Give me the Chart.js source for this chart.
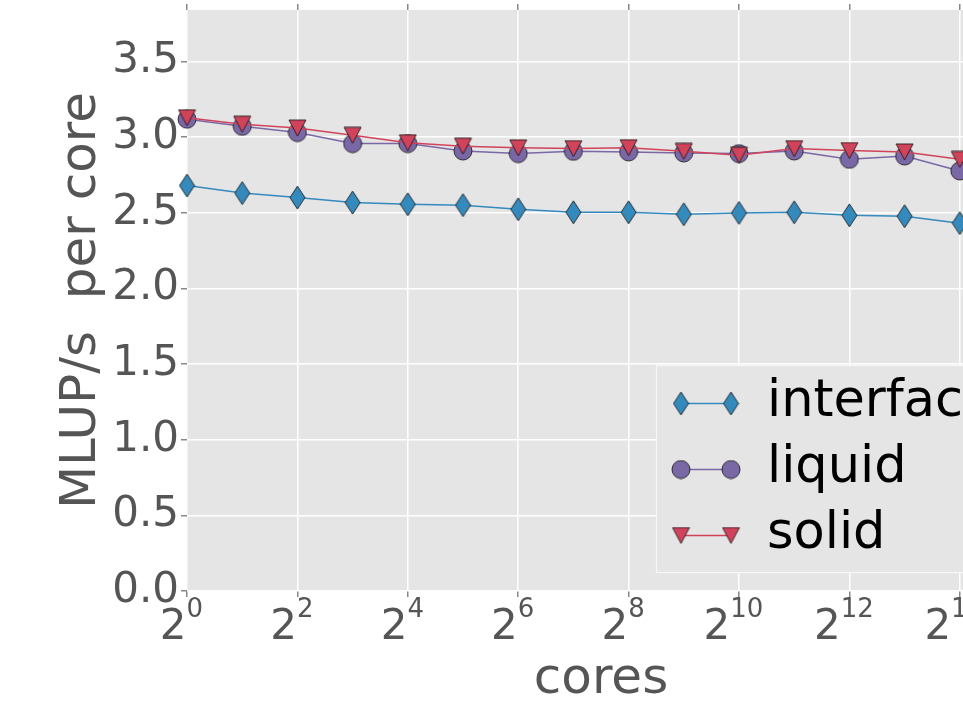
<!DOCTYPE html>
<html><head><meta charset="utf-8">
<script src="https://cdn.jsdelivr.net/npm/chart.js@4"></script>
<style>html,body{margin:0;padding:0;overflow:hidden;background:#fff}</style>
</head><body>
<canvas id="c" width="1015" height="713" style="display:block;width:1015px;height:713px"></canvas>
<script>
// ---- data ----
const cores = [1, 2, 4, 8, 16, 32, 64, 128, 256, 512, 1024, 2048, 4096, 8192, 16384];
const interfaceVals = [2.68, 2.63, 2.60, 2.567, 2.556, 2.55, 2.523, 2.503, 2.503, 2.49, 2.499, 2.503, 2.483, 2.477, 2.431];
const liquidVals = [3.118, 3.071, 3.03, 2.957, 2.957, 2.908, 2.891, 2.906, 2.902, 2.895, 2.891, 2.908, 2.853, 2.875, 2.776];
const solidVals = [3.128, 3.085, 3.06, 3.012, 2.963, 2.94, 2.929, 2.924, 2.93, 2.906, 2.88, 2.924, 2.911, 2.902, 2.853];
const seriesNames = ['interface', 'liquid', 'solid'];
const xTickPowers = [0, 2, 4, 6, 8, 10, 12, 14];
const xTitle = 'cores';
const yTitle = 'MLUP/s  per core';

const FONT = '"DejaVu Sans", "Liberation Sans", sans-serif';
const EDGE = 'rgba(25,25,25,0.85)';

function makeMarker(kind, fill) {
  const c = document.createElement('canvas');
  let w, h;
  if (kind === 'diamond') { w = 17; h = 25; }
  else if (kind === 'circle') { w = 20; h = 20; }
  else { w = 19; h = 18; }
  c.width = w; c.height = h;
  const g = c.getContext('2d');
  g.fillStyle = fill; g.strokeStyle = EDGE; g.lineWidth = 1;
  g.beginPath();
  if (kind === 'diamond') {
    g.moveTo(w/2, 1); g.lineTo(w-1, h/2); g.lineTo(w/2, h-1); g.lineTo(1, h/2); g.closePath();
  } else if (kind === 'circle') {
    g.arc(w/2, h/2, 9, 0, Math.PI*2);
  } else {
    g.moveTo(1, 1); g.lineTo(w-1, 1); g.lineTo(w/2, h-1); g.closePath();
  }
  g.fill(); g.stroke();
  return c;
}

const colors = ['#348ABD', '#7A68A6', '#D1435B'];
const markers = [makeMarker('diamond', colors[0]), makeMarker('circle', colors[1]), makeMarker('tri', colors[2])];
const seriesVals = [interfaceVals, liquidVals, solidVals];

const bgPlugin = {
  id: 'plotBg',
  beforeDraw(chart) {
    const {ctx, chartArea: a} = chart;
    ctx.save(); ctx.fillStyle = '#E5E5E5';
    ctx.fillRect(a.left, a.top, a.right - a.left, a.bottom - a.top);
    ctx.restore();
  }
};

const xLabelPlugin = {
  id: 'xPowLabels',
  afterDraw(chart) {
    const {ctx} = chart; const s = chart.scales.x;
    ctx.save(); ctx.fillStyle = '#555'; ctx.textBaseline = 'alphabetic'; ctx.textAlign = 'left';
    xTickPowers.forEach(p => {
      const x = s.getPixelForValue(Math.pow(2, p));
      ctx.font = '42px ' + FONT; const wb = ctx.measureText('2').width;
      ctx.font = '26px ' + FONT; const we = ctx.measureText(String(p)).width;
      const x0 = x - (wb + we) / 2 - 5.5;
      ctx.font = '42px ' + FONT; ctx.fillText('2', x0, 639);
      ctx.font = '26px ' + FONT; ctx.fillText(String(p), x0 + wb, 617);
    });
    ctx.restore();
  }
};

const legendPlugin = {
  id: 'mplLegend',
  afterDatasetsDraw(chart) {
    const {ctx, chartArea: a} = chart;
    const bx = a.left + 469, by = a.top + 355, bw = 345, bh = 207;
    ctx.save();
    ctx.fillStyle = '#E5E5E5'; ctx.fillRect(bx, by, bw, bh);
    ctx.strokeStyle = '#F7F7F7'; ctx.lineWidth = 1.2; ctx.strokeRect(bx + 0.5, by + 0.5, bw, bh);
    chart.data.datasets.forEach((ds, i) => {
      const y = by + 38.5 + i * 66;
      ctx.strokeStyle = ds.borderColor; ctx.lineWidth = ds.borderWidth;
      ctx.beginPath(); ctx.moveTo(bx + 25, y); ctx.lineTo(bx + 75, y); ctx.stroke();
      const m = ds.pointStyle;
      [bx + 25, bx + 75].forEach(x => ctx.drawImage(m, x - m.width / 2, y - m.height / 2));
      ctx.fillStyle = '#000'; ctx.font = '51px ' + FONT; ctx.textBaseline = 'alphabetic'; ctx.textAlign = 'left';
      ctx.fillText(ds.label, bx + 111, y + 12);
    });
    ctx.restore();
  }
};

const xMin = 1, xMax = Math.pow(2, 15);
const setXTicks = s => { s.ticks = xTickPowers.map(p => ({ value: Math.pow(2, p) })); };

new Chart(document.getElementById('c'), {
  type: 'line',
  data: {
    datasets: seriesNames.map((name, i) => ({
      label: name,
      data: cores.map((c, j) => ({ x: c, y: seriesVals[i][j] })),
      borderColor: colors[i],
      backgroundColor: colors[i],
      borderWidth: 1.5,
      pointStyle: markers[i],
      pointRadius: 10,
      pointHoverRadius: 10,
      clip: false,
      tension: 0,
      fill: false,
      order: 3 - i
    }))
  },
  options: {
    responsive: false,
    animation: false,
    devicePixelRatio: 1,
    events: [],
    layout: { padding: 0, autoPadding: false },
    plugins: { legend: { display: false }, tooltip: { enabled: false } },
    scales: {
      x: {
        type: 'logarithmic', position: 'bottom', min: xMin, max: xMax,
        afterBuildTicks: setXTicks,
        afterFit: s => { s.height = 122; s.paddingLeft = 0; s.paddingRight = 0; },
        border: { display: false },
        grid: { color: '#FFFFFF', lineWidth: 1.5, tickColor: '#888', tickLength: 6, drawTicks: true },
        ticks: { display: false },
        title: { display: true, text: xTitle, color: '#555', font: { family: FONT, size: 50 }, padding: { top: 0, bottom: 3 } }
      },
      x2: {
        type: 'logarithmic', position: 'top', min: xMin, max: xMax,
        afterBuildTicks: setXTicks,
        afterFit: s => { s.height = 10; s.paddingLeft = 0; s.paddingRight = 0; },
        border: { display: false },
        grid: { drawOnChartArea: false, tickColor: '#888', lineWidth: 1.5, tickLength: 6, drawTicks: true },
        ticks: { display: false }
      },
      y: {
        type: 'linear', position: 'left', min: 0, max: 3.84,
        afterFit: s => { s.width = 187; s.paddingTop = 0; s.paddingBottom = 0; },
        border: { display: false },
        grid: { color: '#FFFFFF', lineWidth: 1.5, tickColor: '#888', tickLength: 6, drawTicks: true },
        ticks: { stepSize: 0.5, includeBounds: false, padding: 2, color: '#555', font: { family: FONT, size: 42 },
                 callback: v => Number(v).toFixed(1) },
        title: { display: true, text: yTitle, color: '#555', font: { family: FONT, size: 50 }, padding: { top: 52, bottom: 0 } }
      }
    }
  },
  plugins: [bgPlugin, legendPlugin, xLabelPlugin]
});
</script>
</body></html>
